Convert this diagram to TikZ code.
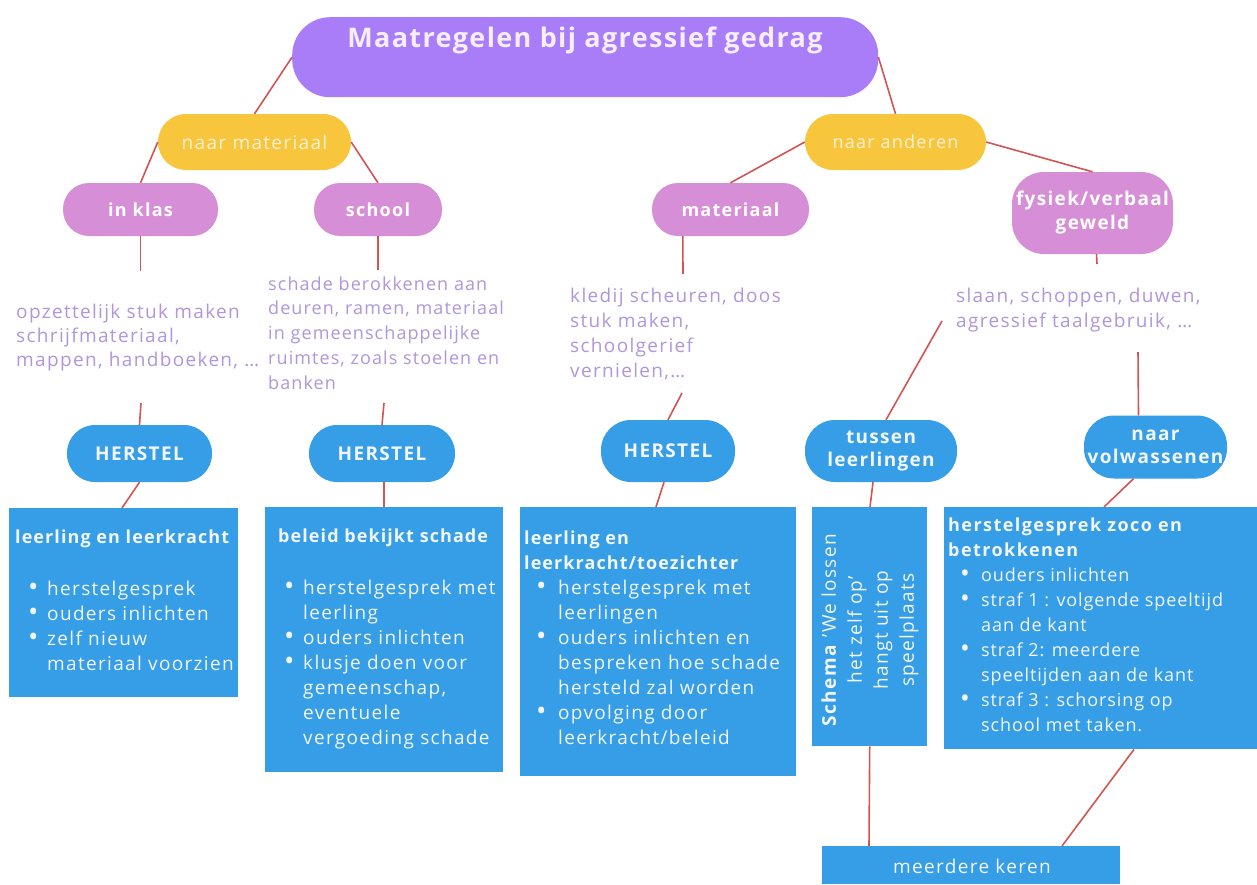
\documentclass[tikz,border=0pt]{standalone}
\usepackage{fontspec}
\setmainfont{Open Sans}[LetterSpace=7]
\newfontfamily\fB{Open Sans}[LetterSpace=5]
\newfontfamily\fC{Open Sans}[LetterSpace=6]
\newfontfamily\fD{Open Sans}[LetterSpace=8]
\usetikzlibrary{calc}
\definecolor{titlepurple}{RGB}{168,125,247}
\definecolor{ambery}{RGB}{248,198,60}
\definecolor{orchid}{RGB}{214,142,214}
\definecolor{skyb}{RGB}{54,158,230}
\definecolor{lav}{RGB}{176,150,218}
\definecolor{linered}{RGB}{212,84,84}
\definecolor{cream}{RGB}{255,241,214}
\definecolor{offw}{RGB}{242,246,252}
\definecolor{titletxt}{RGB}{246,238,255}
\newcommand{\bsz}{\fontsize{18}{25}\selectfont}
\newcommand{\bszb}{\fontsize{19}{25}\selectfont}
\newcommand{\bul}{\raisebox{-1.2pt}{\scalebox{1.45}{\textbullet}}}
\begin{document}
\begin{tikzpicture}[x=1pt,y=-1pt,
  conn/.style={draw=linered,line width=1.6pt},
  pill/.style={rectangle,rounded corners=#1,inner sep=0pt,align=center},
  bluebox/.style={rectangle,fill=skyb,inner sep=0pt,anchor=north west},
  lavtext/.style={anchor=north west,inner sep=0pt,text=lav},
  boxtext/.style={anchor=north west,inner sep=0pt,text=offw,font=\bszb}]
\useasboundingbox (0,0) rectangle (1257,884);
\fill[white] (0,0) rectangle (1257,884);

% title
\node[pill=38,fill=titlepurple,minimum width=586,minimum height=80,anchor=north west] (title) at (292,17) {};
\node[anchor=base,inner sep=0pt,text=titletxt,font=\fontsize{27}{30}\selectfont\fB\bfseries] (titlet) at (585,47) {Maatregelen bij agressief gedrag};

% level 1
\node[pill=28,fill=ambery,text=cream,minimum width=193,minimum height=56,font=\bszb] (nm) at (254.5,142) {naar materiaal};
\node[pill=28,fill=ambery,text=cream,minimum width=181,minimum height=56,font=\bsz] (na) at (895.5,142) {naar anderen};

% level 2
\node[pill=26,fill=orchid,text=white,minimum width=155,minimum height=53,font=\bsz\bfseries] (inklas) at (140.5,209.5) {in klas};
\node[pill=26,fill=orchid,text=white,minimum width=128,minimum height=53,font=\bsz\bfseries] (school) at (378,209.5) {school};
\node[pill=26,fill=orchid,text=white,minimum width=157,minimum height=53,font=\bsz\bfseries] (materiaal) at (730.5,209.5) {materiaal};
\node[pill=32,fill=orchid,text=white,minimum width=161,minimum height=82,font=\fontsize{19}{24}\selectfont\bfseries] (fysiek) at (1092.5,213) {fysiek/verbaal\\geweld};

% descriptions
\node[lavtext,font=\fontsize{19}{24}\selectfont] (t1) at (16,301.2) {\begin{tabular}{@{}l@{}}opzettelijk stuk maken\\schrijfmateriaal,\\mappen, handboeken, …\end{tabular}};
\node[lavtext,font=\fontsize{18}{24.8}\selectfont\fC] (t2) at (268,272.6) {\begin{tabular}{@{}l@{}}schade berokkenen aan\\deuren, ramen, materiaal\\in gemeenschappelijke\\ruimtes, zoals stoelen en\\banken\end{tabular}};
\node[lavtext,font=\bszb] (t3) at (570,284.5) {\begin{tabular}{@{}l@{}}kledij scheuren, doos\\stuk maken,\\schoolgerief\\vernielen,…\end{tabular}};
\node[lavtext,font=\bszb] (t4) at (956,284.5) {\begin{tabular}{@{}l@{}}slaan, schoppen, duwen,\\agressief taalgebruik, …\end{tabular}};

% blue pills
\node[pill=28,fill=skyb,text=offw,minimum width=145,minimum height=57,font=\bszb\bfseries] (h1) at (139.5,453.5) {HERSTEL};
\node[pill=28,fill=skyb,text=offw,minimum width=146,minimum height=57,font=\bszb\bfseries] (h2) at (382,453.5) {HERSTEL};
\node[pill=30,fill=skyb,text=offw,minimum width=134,minimum height=62,font=\bszb\bfseries] (h3) at (668,451) {HERSTEL};
\node[pill=30,fill=skyb,text=offw,minimum width=152,minimum height=62,font=\fontsize{19}{23.5}\selectfont\bfseries] (tussen) at (881,451) {tussen\\leerlingen};
\node[pill=30,fill=skyb,text=offw,minimum width=143,minimum height=63,font=\fontsize{19}{23.5}\selectfont\bfseries] (volw) at (1155.5,447) {naar\\volwassenen};

% blue boxes
\node[bluebox,minimum width=229,minimum height=189] (b1) at (9,508) {};
\node[bluebox,minimum width=238,minimum height=265] (b2) at (265,507) {};
\node[bluebox,minimum width=276,minimum height=269] (b3) at (520,507) {};
\node[bluebox,minimum width=115,minimum height=239] (b4) at (812,507) {};
\node[bluebox,minimum width=313,minimum height=242] (b5) at (944,507) {};
\node[bluebox,minimum width=298,minimum height=38] (b6) at (822,846) {};

% box texts
\node[boxtext,font=\bsz\bfseries\fC] (b1t) at (15,525.5) {\begin{tabular}{@{}l@{}}leerling en leerkracht\end{tabular}};
\node[boxtext] (b1l) at (28,577.5) {\begin{tabular}{@{}p{19pt}@{}l@{}}\bul & herstelgesprek\\ \bul & ouders inlichten\\ \bul & zelf nieuw\\ & materiaal voorzien\end{tabular}};

\node[boxtext,font=\bsz\bfseries\fC] (b2t) at (278,524.5) {\begin{tabular}{@{}l@{}}beleid bekijkt schade\end{tabular}};
\node[boxtext] (b2l) at (284,576.5) {\begin{tabular}{@{}p{19pt}@{}l@{}}\bul & herstelgesprek met\\ & leerling\\ \bul & ouders inlichten\\ \bul & klusje doen voor\\ & gemeenschap,\\ & eventuele\\ & vergoeding schade\end{tabular}};

\node[boxtext,font=\bsz\bfseries\fC] (b3t) at (524,526.5) {\begin{tabular}{@{}l@{}}leerling en\\leerkracht/toezichter\end{tabular}};
\node[boxtext] (b3l) at (536,576.5) {\begin{tabular}{@{}p{22pt}@{}l@{}}\bul & herstelgesprek met\\ & leerlingen\\ \bul & ouders inlichten en\\ & bespreken hoe schade\\ & hersteld zal worden\\ \bul & opvolging door\\ & leerkracht/beleid\end{tabular}};

\node[inner sep=0pt,text=offw,rotate=90,align=center,font=\fontsize{19}{26}\selectfont] (b4t) at (870,630) {\textbf{Schema} 'We lossen\\het zelf op'\\hangt uit op\\speelplaats};

\node[boxtext,font=\bsz\bfseries\fD] (b5t) at (948,513.5) {\begin{tabular}{@{}l@{}}herstelgesprek zoco en\\betrokkenen\end{tabular}};
\node[boxtext,font=\bsz\fB] (b5l) at (960,563.5) {\begin{tabular}{@{}p{21pt}@{}l@{}}\bul & ouders inlichten\\ \bul & straf 1 : volgende speeltijd\\ & aan de kant\\ \bul & straf 2: meerdere\\ & speeltijden aan de kant\\ \bul & straf 3 : schorsing op\\ & school met taken.\end{tabular}};

\node[anchor=base,inner sep=0pt,text=offw,font=\bszb] (b6t) at (972,873) {meerdere keren};

% free ends
\coordinate (c1) at (140.5,271);
\coordinate (c2) at (141,403);
\coordinate (c3) at (378,270);
\coordinate (c4) at (384,403);
\coordinate (c5) at (683,274);
\coordinate (c6) at (682,393);
\coordinate (c7) at (1097,264);
\coordinate (c8) at (942,321);
\coordinate (c9) at (1138,352);

% connectors
\draw[conn] (title.west) -- (nm.north);
\draw[conn] (title.east) -- (na.north);
\draw[conn] (nm.west) -- (inklas.north);
\draw[conn] (nm.east) -- (school.north);
\draw[conn] (na.west) -- (materiaal.north);
\draw[conn] (na.east) -- (fysiek.north);
\draw[conn] (inklas.south) -- (c1);
\draw[conn] (c2) -- (h1.north);
\draw[conn] (school.south) -- (c3);
\draw[conn] (c4) -- (h2.north);
\draw[conn] ($(materiaal.south west)+(31,0)$) -- (c5);
\draw[conn] (c6) -- (h3.north);
\draw[conn] ($(fysiek.south)+(4,0)$) -- (c7);
\draw[conn] (c8) -- ($(tussen.north)+(5,0)$);
\draw[conn] (c9) -- ($(volw.north)+(-17,0)$);
\draw[conn] (h1.south) -- ($(b1.north west)+(113,0)$);
\draw[conn] ($(h2.south)+(2,0)$) -- ($(b2.north west)+(119,0)$);
\draw[conn] ($(h3.south)+(-4,0)$) -- ($(b3.north west)+(136,0)$);
\draw[conn] ($(tussen.south)+(-8,0)$) -- ($(b4.north west)+(58,0)$);
\draw[conn] ($(volw.south)+(-22,0)$) -- ($(b5.north west)+(160,0)$);
\draw[conn] (b4.south) -- ($(b6.north west)+(47,0)$);
\draw[conn] ($(b5.south west)+(190,0)$) -- ($(b6.north west)+(240,0)$);
\end{tikzpicture}
\end{document}
